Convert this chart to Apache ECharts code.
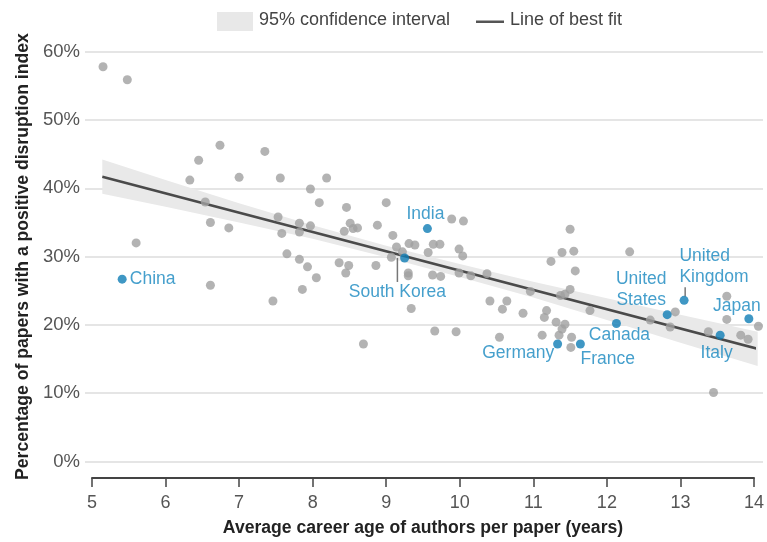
<!DOCTYPE html>
<html>
<head>
<meta charset="utf-8">
<script src="https://cdn.jsdelivr.net/npm/echarts@6/dist/echarts.min.js"></script>
<style>
html,body{margin:0;padding:0;background:#fff;}
#chart{width:767px;height:542px;}
</style>
</head>
<body>
<div id="chart"></div>
<script>
// ---- data ----
const otherX = [5.15,5.48,5.60,6.33,6.45,6.54,6.61,6.61,6.74,6.86,7.00,7.35,7.46,7.53,7.56,7.58,7.65,7.82,7.82,7.82,7.86,7.93,7.97,7.97,8.05,8.09,8.19,8.36,8.43,8.45,8.46,8.49,8.51,8.55,8.61,8.69,8.86,8.88,9.00,9.07,9.09,9.14,9.22,9.30,9.30,9.31,9.34,9.39,9.57,9.63,9.64,9.66,9.73,9.74,9.89,9.95,9.99,9.99,10.04,10.05,10.15,10.37,10.41,10.54,10.58,10.64,10.86,10.96,11.12,11.15,11.18,11.24,11.31,11.35,11.37,11.39,11.39,11.43,11.43,11.50,11.50,11.51,11.52,11.55,11.57,11.77,12.31,12.59,12.86,12.93,13.38,13.45,13.63,13.63,13.82,13.92,14.06];
const otherY = [57.8,55.9,32.0,41.2,44.1,38.0,35.0,25.8,46.3,34.2,41.6,45.4,23.5,35.8,41.5,33.4,30.4,34.9,33.6,29.6,25.2,28.5,39.9,34.5,26.9,37.9,41.5,29.1,33.7,27.6,37.2,28.7,34.9,34.1,34.2,17.2,28.7,34.6,37.9,29.9,33.1,31.4,30.7,27.6,27.2,31.9,22.4,31.7,30.6,27.3,31.8,19.1,31.8,27.1,35.5,19.0,31.1,27.6,30.1,35.2,27.2,27.5,23.5,18.2,22.3,23.5,21.7,24.9,18.5,21.1,22.1,29.3,20.4,18.5,24.3,30.6,19.4,24.5,20.1,34.0,25.2,16.7,18.2,30.8,27.9,22.1,30.7,20.7,19.7,21.9,19.0,10.1,24.2,20.8,18.5,17.9,19.8];

const countries = ['China','India','South Korea','Germany','France','Canada','United States','United Kingdom','Japan','Italy'];
const countryX = [5.41,9.56,9.25,11.33,11.64,12.13,12.82,13.05,13.93,13.54];
const countryY = [26.7,34.1,29.8,17.2,17.2,20.2,21.5,23.6,20.9,18.5];

const fitX = [5.14,14.05];
const fitY = [41.7,16.5];

const ciX     = [5.14,6,7,8,9,10,11,12,13,14.05];
const ciUpper = [44.2,41.2,37.8,34.6,31.6,28.9,26.3,23.9,21.5,19.0];
const ciLower = [39.2,37.3,35.0,32.6,29.9,27.0,24.0,20.7,17.4,14.0];

const xTicks = [5,6,7,8,9,10,11,12,13,14];
const yTicks = [0,10,20,30,40,50,60];

// ---- styling ----
const FONT = 'Liberation Sans, Arial, sans-serif';
const BLUE = '#0f7db5';
const BLUE_TXT = '#1787bf';
const GREY = '#a0a0a0';
const TXT = '#555';

const labelCfg = {
  'China':          {offset:[30.5,0]},
  'India':          {offset:[-2,-14]},
  'South Korea':    {offset:[-7.2,22], formatter:'{bar|}\n{t|South Korea}'},
  'Germany':        {offset:[-39.4,8.7]},
  'France':         {offset:[27.3,15]},
  'Canada':         {offset:[3,12]},
  'United States':  {offset:[-26,-25], formatter:'United\nStates'},
  'United Kingdom': {offset:[-4.7,-29.5], align:'left', formatter:'United\nKingdom\n{sp|}{bar2|}'},
  'Japan':          {offset:[-12,-13]},
  'Italy':          {offset:[-3.5,17.7]}
};

const countryData = countries.map((c,i)=>{
  const cfg = labelCfg[c];
  return {
    name: c,
    value: [countryX[i], countryY[i]],
    label: Object.assign({
      show: true,
      position: 'inside',
      color: BLUE_TXT,
      fontFamily: FONT,
      fontSize: 17.5,
      lineHeight: 21,
      formatter: '{b}',
      rich: {
        bar: {width: 1.5, height: 24, lineHeight: 24, backgroundColor: '#555'},
        bar2: {width: 1.5, height: 9, lineHeight: 9, backgroundColor: '#555'},
        sp: {width: 5, height: 9, lineHeight: 9},
        t: {fontSize: 17.5, lineHeight: 20, color: BLUE_TXT, fontFamily: FONT}
      }
    }, cfg)
  };
});

const chart = echarts.init(document.getElementById('chart'), null, {renderer:'canvas'});

const option = {
  animation: false,
  backgroundColor: '#fff',
  textStyle: {fontFamily: FONT},
  grid: [
    {left: 85, right: 4, top: 51.7, bottom: 80.5, containLabel: false},
    {left: 92, right: 9, top: 51.7, bottom: 80.5, containLabel: false}
  ],
  xAxis: [
    {gridIndex: 0, type: 'value', min: 0, max: 1, show: false},
    {
      gridIndex: 1, type: 'value', min: xTicks[0], max: xTicks[xTicks.length-1], interval: 1,
      offset: 16.5,
      axisLine: {show: true, onZero: false, lineStyle: {color: '#444', width: 2}},
      axisTick: {show: true, length: 9, lineStyle: {color: '#444', width: 1.5}},
      axisLabel: {color: TXT, fontSize: 18, margin: 16, fontFamily: FONT},
      splitLine: {show: false},
      name: 'Average career age of authors per paper (years)',
      nameLocation: 'middle',
      nameGap: 41,
      nameTextStyle: {color: '#222', fontSize: 17.6, fontWeight: 'bold', fontFamily: FONT}
    }
  ],
  yAxis: [
    {
      gridIndex: 0, type: 'value', min: yTicks[0], max: yTicks[yTicks.length-1], interval: 10,
      axisLine: {show: false}, axisTick: {show: false},
      axisLabel: {color: TXT, fontSize: 18.5, margin: 5, formatter: '{value}%', fontFamily: FONT},
      splitLine: {show: true, lineStyle: {color: '#dcdcdc', width: 1.5}},
      name: 'Percentage of papers with a positive disruption index',
      nameLocation: 'middle',
      nameGap: 52,
      nameTextStyle: {color: '#222', fontSize: 17.6, fontWeight: 'bold', fontFamily: FONT}
    },
    {gridIndex: 1, type: 'value', min: yTicks[0], max: yTicks[yTicks.length-1], show: false}
  ],
  graphic: [
    {type:'rect', left: 217, top: 12, shape:{width:36, height:19}, style:{fill:'#e8e8e8'}},
    {type:'text', left: 259, top: 11, style:{text:'95% confidence interval', fill:'#444', font:'18px ' + FONT}},
    {type:'rect', left: 476, top: 20.5, shape:{width:28, height:2.5}, style:{fill:'#555'}},
    {type:'text', left: 510, top: 11, style:{text:'Line of best fit', fill:'#444', font:'18px ' + FONT}}
  ],
  series: [
    {
      type: 'custom',
      xAxisIndex: 1, yAxisIndex: 1,
      z: 1,
      silent: true,
      data: [[ciX[0], ciUpper[0]]],
      renderItem: function(params, api){
        const pts = [];
        for (let i=0;i<ciX.length;i++) pts.push(api.coord([ciX[i], ciUpper[i]]));
        for (let i=ciX.length-1;i>=0;i--) pts.push(api.coord([ciX[i], ciLower[i]]));
        return {type:'polygon', shape:{points: pts}, style:{fill:'#e9e9e9'}};
      }
    },
    {
      type: 'line',
      xAxisIndex: 1, yAxisIndex: 1,
      z: 2,
      symbol: 'none',
      data: fitX.map((x,i)=>[x, fitY[i]]),
      lineStyle: {color: '#4a4a4a', width: 2.5}
    },
    {
      type: 'scatter',
      xAxisIndex: 1, yAxisIndex: 1,
      z: 3,
      clip: false,
      symbolSize: 9,
      itemStyle: {color: GREY},
      data: otherX.map((x,i)=>[x, otherY[i]])
    },
    {
      type: 'scatter',
      xAxisIndex: 1, yAxisIndex: 1,
      z: 4,
      clip: false,
      symbolSize: 9,
      itemStyle: {color: BLUE},
      data: countryData
    }
  ]
};
chart.setOption(option);
</script>
</body>
</html>
